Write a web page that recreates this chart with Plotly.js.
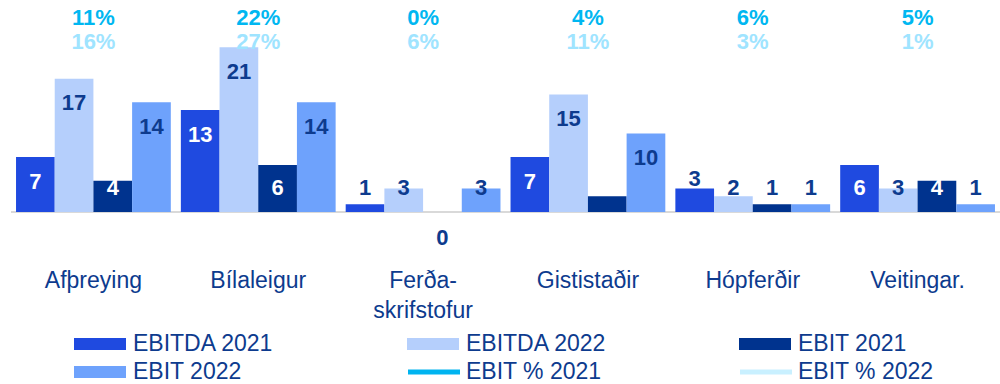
<!DOCTYPE html>
<html>
<head>
<meta charset="utf-8">
<script src="https://cdn.plot.ly/plotly-3.0.1.min.js"></script>
<style>
  html, body { margin: 0; padding: 0; background: #ffffff; }
  #chart { width: 1000px; height: 384px; }
</style>
</head>
<body>
<div id="chart"></div>
<script>
// Sectors (x categories)
const categories = ['Afþreying', 'Bílaleigur', 'Ferða-<br>skrifstofur', 'Gististaðir', 'Hópferðir', 'Veitingar.'];

// Bar series (ma.kr.)
const ebitda2021 = [7, 13, 1, 7, 3, 6];
const ebitda2022 = [17, 21, 3, 15, 2, 3];
const ebit2021 = [4, 6, 0, 2, 1, 4];
const ebit2022 = [14, 14, 3, 10, 1, 1];

// EBIT margin series (%)
const ebitPct2021 = [11, 22, 0, 4, 6, 5];
const ebitPct2022 = [16, 27, 6, 11, 3, 1];

// Series names
const barNames = ['EBITDA 2021', 'EBITDA 2022', 'EBIT 2021', 'EBIT 2022'];
const pctNames = ['EBIT % 2021', 'EBIT % 2022'];

// Value labels that are left out: [series index, category index]
const hiddenLabels = [[2, 3]];

// ---- styling ----
const FONT = '"Liberation Sans", Arial, sans-serif';
const NAVY = '#0D3B8E';
const barColors = ['#1F4AE0', '#B5CFFC', '#00338E', '#6EA2FC'];
const darkBars = [true, false, true, false];
const pctLineColors = ['#00B4F0', '#C9F0FF'];
const pctTextColors = ['#00B7F1', '#9FE4FF'];

const barSeries = [ebitda2021, ebitda2022, ebit2021, ebit2022];
const pctSeries = [ebitPct2021, ebitPct2022];
const xIdx = categories.map((_, i) => i);

const BARGAP = 0.061;
const barW = (1 - BARGAP) / barSeries.length;

// plot geometry (px)
const W = 1000, H = 384;
const M = { l: 11, r: 0, t: 0, b: 120 };
const plotH = H - M.t - M.b;
const pxPerUnit = 7.84;
const baselinePx = 212;
const yMax = baselinePx / pxPerUnit;
const yMin = yMax - plotH / pxPerUnit;

// value-label placement in data units
function labelPos(v, dark) {
  if (v <= 0) return { y: -27 / pxPerUnit, inside: false };
  let y = Math.max(v - 26 / pxPerUnit, 23 / pxPerUnit);
  const inside = v - y >= 1;
  // labels on short dark bars sit just above the bar
  if (dark && !inside) y = Math.max(y, v + 1);
  return { y: y, inside: inside };
}
function isHidden(k, i) {
  return hiddenLabels.some(h => h[0] === k && h[1] === i);
}

const traces = [];

// bars
barSeries.forEach((vals, k) => {
  traces.push({
    type: 'bar',
    name: barNames[k],
    x: xIdx,
    y: vals,
    marker: { color: barColors[k], line: { width: 0 } },
    hoverinfo: 'skip',
    showlegend: false
  });
});

// value labels on the bars
barSeries.forEach((vals, k) => {
  const off = (k - (barSeries.length - 1) / 2) * barW;
  const xs = [], ys = [], ts = [], cs = [];
  vals.forEach((v, i) => {
    if (isHidden(k, i)) return;
    const p = labelPos(v, darkBars[k]);
    xs.push(i + off);
    ys.push(p.y);
    ts.push(String(v));
    cs.push(darkBars[k] && p.inside ? '#FFFFFF' : NAVY);
  });
  traces.push({
    type: 'scatter',
    mode: 'text',
    x: xs,
    y: ys,
    text: ts,
    textposition: 'middle center',
    textfont: { family: FONT, size: 22, color: cs, weight: 'bold' },
    cliponaxis: false,
    hoverinfo: 'skip',
    showlegend: false
  });
});

// EBIT % labels above each sector
const pctRowPx = [19, 43];
pctSeries.forEach((vals, k) => {
  traces.push({
    type: 'scatter',
    mode: 'text',
    name: pctNames[k],
    x: xIdx,
    y: vals.map(() => (baselinePx - pctRowPx[k]) / pxPerUnit),
    text: vals.map(v => v + '%'),
    textposition: 'middle center',
    textfont: { family: FONT, size: 22, color: pctTextColors[k], weight: 'bold' },
    cliponaxis: false,
    hoverinfo: 'skip',
    showlegend: false
  });
});

// custom legend: wide swatches in a 3-column grid
const plotW = W - M.l - M.r;
const px2x = px => (px - M.l) / plotW;
const px2y = py => (M.t + plotH - py) / plotH;
const legendItems = [
  { name: barNames[0], color: barColors[0], kind: 'box' },
  { name: barNames[1], color: barColors[1], kind: 'box' },
  { name: barNames[2], color: barColors[2], kind: 'box' },
  { name: barNames[3], color: barColors[3], kind: 'box' },
  { name: pctNames[0], color: pctLineColors[0], kind: 'line' },
  { name: pctNames[1], color: pctLineColors[1], kind: 'line' }
];
const colLeft = [74, 407, 739];
const rowMid = [344, 372];
const shapes = [];
const annotations = [];
legendItems.forEach((it, n) => {
  const c = n % 3, r = Math.floor(n / 3);
  const x0 = colLeft[c], x1 = x0 + 52, ym = rowMid[r];
  if (it.kind === 'box') {
    shapes.push({
      type: 'rect', xref: 'paper', yref: 'paper',
      x0: px2x(x0), x1: px2x(x1), y0: px2y(ym + 6), y1: px2y(ym - 6),
      fillcolor: it.color, line: { width: 0 }
    });
  } else {
    shapes.push({
      type: 'line', xref: 'paper', yref: 'paper',
      x0: px2x(x0 + 1), x1: px2x(x1 + 1), y0: px2y(ym), y1: px2y(ym),
      line: { color: it.color, width: 5 }
    });
  }
  annotations.push({
    xref: 'paper', yref: 'paper',
    x: px2x(x0 + 57), y: px2y(ym - 1.5),
    xanchor: 'left', yanchor: 'middle',
    text: it.name, showarrow: false,
    font: { family: FONT, size: 23, color: NAVY }
  });
});

const layout = {
  width: W, height: H,
  margin: M,
  paper_bgcolor: '#FFFFFF',
  plot_bgcolor: '#FFFFFF',
  barmode: 'group',
  bargap: BARGAP,
  bargroupgap: 0,
  showlegend: false,
  font: { family: FONT, color: NAVY },
  xaxis: {
    range: [-0.5, categories.length - 0.5],
    tickmode: 'array',
    tickvals: xIdx,
    ticktext: categories,
    tickfont: { family: FONT, size: 23, color: NAVY },
    ticks: '',
    showgrid: false, zeroline: false, showline: false,
    fixedrange: true
  },
  yaxis: {
    range: [yMin, yMax],
    showticklabels: false,
    ticks: '',
    showgrid: false,
    zeroline: true,
    zerolinecolor: '#D9D9D9',
    zerolinewidth: 2,
    showline: false,
    fixedrange: true
  },
  shapes: shapes,
  annotations: annotations
};

Plotly.newPlot('chart', traces, layout, { displayModeBar: false, staticPlot: true });
</script>
</body>
</html>
